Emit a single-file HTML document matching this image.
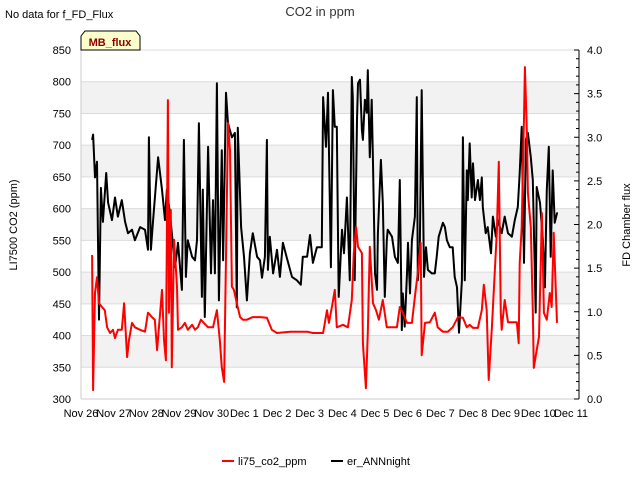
<!DOCTYPE html>
<html><head><meta charset="utf-8"><style>
body{margin:0;background:#fff;}
svg text{font-family:"Liberation Sans","DejaVu Sans",sans-serif;}
</style></head><body>
<svg id="c" width="640" height="480" xmlns="http://www.w3.org/2000/svg">
<text x="5" y="18" font-size="11" fill="#000">No data for f_FD_Flux</text>
<text x="320" y="16" font-size="13" fill="#333" text-anchor="middle">CO2 in ppm</text>
<g id="grid"></g>
<g id="series"></g>
<g id="axes"></g>
<g>
<path d="M81,50 L81,36 L85,31 L136,31 L140,36 L140,50 Z" fill="#ffffcc" stroke="#000" stroke-width="1"/>
<text x="110" y="46" font-size="11" font-weight="bold" fill="#8b0000" text-anchor="middle">MB_flux</text>
</g>
<text transform="translate(17,225) rotate(-90)" font-size="11" text-anchor="middle" fill="#000">LI7500 CO2 (ppm)</text>
<text transform="translate(630,225) rotate(-90)" font-size="11" text-anchor="middle" fill="#000">FD Chamber flux</text>
<g><line x1="222" y1="461" x2="234" y2="461" stroke="#f00" stroke-width="2"/><text x="238" y="465" font-size="11">li75_co2_ppm</text></g>
<g><line x1="331" y1="461" x2="343" y2="461" stroke="#000" stroke-width="2"/><text x="347" y="465" font-size="11">er_ANNnight</text></g>
</svg>
<script>
const xTickLabels=["Nov 26","Nov 27","Nov 28","Nov 29","Nov 30","Dec 1","Dec 2","Dec 3","Dec 4","Dec 5","Dec 6","Dec 7","Dec 8","Dec 9","Dec 10","Dec 11"];
const yTicks=[300,350,400,450,500,550,600,650,700,750,800,850];
const y2Ticks=["0.0","0.5","1.0","1.5","2.0","2.5","3.0","3.5","4.0"];
const erDays=[0.34,0.37,0.43,0.49,0.55,0.61,0.67,0.77,0.83,0.95,1.04,1.13,1.25,1.35,1.44,1.56,1.65,1.81,1.96,2.05,2.08,2.14,2.20,2.36,2.48,2.57,2.63,2.72,2.88,2.97,3.09,3.15,3.21,3.27,3.40,3.49,3.55,3.61,3.70,3.73,3.79,3.89,3.98,4.04,4.10,4.16,4.22,4.31,4.35,4.44,4.50,4.62,4.71,4.77,4.80,4.90,4.99,5.08,5.17,5.26,5.39,5.48,5.54,5.63,5.69,5.72,5.78,5.88,6.00,6.09,6.18,6.30,6.46,6.61,6.73,6.79,6.92,7.01,7.10,7.22,7.37,7.41,7.50,7.56,7.65,7.71,7.77,7.83,7.89,7.99,8.05,8.14,8.23,8.29,8.32,8.38,8.45,8.48,8.54,8.60,8.63,8.69,8.75,8.78,8.84,8.90,8.94,9.00,9.06,9.09,9.18,9.24,9.30,9.36,9.39,9.52,9.61,9.70,9.76,9.82,9.85,9.91,9.98,10.01,10.07,10.13,10.22,10.28,10.31,10.37,10.43,10.50,10.56,10.62,10.74,10.83,10.89,10.95,11.08,11.14,11.20,11.29,11.38,11.44,11.51,11.57,11.66,11.69,11.75,11.81,11.84,11.90,11.96,12.00,12.06,12.15,12.21,12.27,12.30,12.39,12.45,12.55,12.61,12.70,12.76,12.88,12.97,13.07,13.19,13.28,13.37,13.43,13.49,13.56,13.62,13.68,13.77,13.83,13.92,13.95,14.05,14.14,14.20,14.26,14.32,14.38,14.44,14.50,14.57,14.60];
const erValues=[2.97,3.03,2.54,2.72,0.91,2.42,2.03,2.59,2.25,2.05,2.31,2.09,2.28,2.03,1.90,1.94,1.82,1.97,1.94,1.71,3.00,1.71,2.02,2.77,2.40,2.05,2.40,2.13,1.51,1.79,1.25,2.97,1.40,1.82,1.63,1.59,1.82,3.16,1.17,2.40,0.94,2.89,1.44,2.28,1.44,3.62,1.13,2.85,1.59,3.51,3.16,3.00,3.05,1.05,3.11,1.97,1.63,1.13,1.67,1.90,1.63,1.59,1.39,1.63,2.97,1.48,1.86,1.44,1.71,1.40,1.79,1.62,1.40,1.36,1.31,1.63,1.63,1.88,1.56,1.74,1.74,3.46,2.89,3.51,1.51,3.54,3.12,3.12,1.17,1.94,1.67,2.31,1.36,3.69,3.46,1.36,3.20,3.62,3.66,3.08,2.97,3.43,3.28,3.77,2.77,3.43,2.70,1.44,1.25,1.90,2.74,2.25,1.17,1.82,1.94,1.86,1.63,1.56,2.51,0.79,1.21,0.83,1.44,1.79,1.21,1.82,2.09,3.46,1.36,1.74,3.54,1.40,1.74,1.48,1.44,1.44,1.63,1.86,2.02,1.97,1.82,1.74,1.74,1.40,1.28,0.76,1.36,3.00,1.36,2.62,2.28,2.93,2.31,2.70,2.28,2.51,2.28,2.54,2.20,1.90,1.97,1.67,2.09,1.86,2.05,1.90,2.09,1.90,1.86,2.05,2.20,2.59,3.12,1.56,2.97,3.05,2.77,2.51,0.99,2.43,2.25,1.82,1.28,2.40,2.89,1.63,2.62,2.02,2.13,2.13];
const co2Days=[0.34,0.37,0.43,0.49,0.55,0.64,0.73,0.80,0.89,0.98,1.04,1.13,1.25,1.32,1.41,1.47,1.56,1.65,1.81,1.96,2.05,2.17,2.26,2.33,2.48,2.54,2.60,2.66,2.69,2.75,2.78,2.85,2.94,2.97,3.09,3.18,3.27,3.40,3.49,3.58,3.67,3.76,3.89,4.04,4.16,4.25,4.31,4.38,4.44,4.50,4.56,4.62,4.68,4.77,4.87,4.96,5.08,5.26,5.48,5.69,5.84,6.00,6.40,6.92,7.10,7.41,7.53,7.59,7.68,7.77,7.83,8.02,8.17,8.29,8.35,8.42,8.48,8.60,8.63,8.72,8.78,8.84,8.94,9.03,9.12,9.24,9.36,9.52,9.67,9.76,9.85,9.98,10.13,10.22,10.31,10.40,10.43,10.53,10.68,10.83,10.92,11.08,11.23,11.38,11.54,11.69,11.81,11.90,12.00,12.15,12.27,12.33,12.42,12.48,12.58,12.73,12.79,12.85,12.88,12.97,13.07,13.34,13.40,13.43,13.49,13.56,13.59,13.65,13.68,13.77,13.83,13.86,13.95,14.02,14.11,14.17,14.26,14.35,14.41,14.47,14.57];
const co2Values=[527,314,467,492,451,445,440,413,404,409,396,409,409,451,366,393,420,413,409,406,436,429,425,377,472,393,361,771,436,598,350,551,477,409,413,420,409,417,409,413,425,420,413,413,440,393,350,327,524,735,692,477,472,451,429,425,425,429,429,428,409,404,406,406,404,404,440,420,445,472,413,417,413,456,530,571,540,530,388,317,404,540,451,440,425,456,413,413,413,445,436,420,420,461,499,546,369,420,421,436,413,406,406,413,429,428,413,417,412,412,440,480,440,330,413,562,674,436,409,456,421,421,388,514,571,744,823,719,625,571,440,349,377,398,593,436,425,467,445,562,420];

const NS="http://www.w3.org/2000/svg";
const L=81,R=571,T=50,B=399,RA=579;
const xS=d=>L+d*(R-L)/15;
const yS=v=>B-(v-300)*(B-T)/550;
const y2S=v=>B-v*(B-T)/4;
function mk(tag,attrs,parent){const e=document.createElementNS(NS,tag);for(const k in attrs)e.setAttribute(k,attrs[k]);parent.appendChild(e);return e;}
const grid=document.getElementById('grid'),axes=document.getElementById('axes'),series=document.getElementById('series');
for(let i=0;i<yTicks.length-1;i++){
  if(i%2===1){const r=mk('rect',{x:L,y:yS(yTicks[i+1]),width:RA-L,height:yS(yTicks[i])-yS(yTicks[i+1]),fill:'#f2f2f2'},grid);
  
  }
}
yTicks.forEach(v=>{
  const g=mk('line',{x1:L,x2:RA,y1:yS(v),y2:yS(v),stroke:'#dcdcdc','stroke-width':1},grid);
  
  
  const t=mk('text',{x:L-10,y:yS(v)+4,'font-size':11,'text-anchor':'end',fill:'#000'},axes);
  t.textContent=v;
  
  
});
mk('line',{x1:L,x2:L,y1:T,y2:B,stroke:'#ccc'},axes);
mk('line',{x1:L,x2:RA,y1:B,y2:B,stroke:'#ccc'},axes);
mk('line',{x1:RA,x2:RA,y1:T,y2:B,stroke:'#000'},axes);
for(let i=0;i<=40;i++){
  const y=y2S(i/10);
  mk('line',{x1:RA-(i%5===0?5:3),x2:RA,y1:y,y2:y,stroke:'#000'},axes);
}
y2Ticks.forEach(s=>{
  const t=mk('text',{x:RA+8,y:y2S(parseFloat(s))+4,'font-size':11,fill:'#000'},axes);
  t.textContent=s;
  
  
});
xTickLabels.forEach((s,i)=>{
  const t=mk('text',{x:xS(i),y:B+18,'font-size':11,'text-anchor':'middle',fill:'#000'},axes);
  t.textContent=s;
  
  
});
const p1=mk('polyline',{points:erDays.map((d,i)=>xS(d).toFixed(1)+','+y2S(erValues[i]).toFixed(1)).join(' '),fill:'none',stroke:'#000','stroke-width':2,'stroke-linejoin':'round'},series);


const p2=mk('polyline',{points:co2Days.map((d,i)=>xS(d).toFixed(1)+','+yS(co2Values[i]).toFixed(1)).join(' '),fill:'none',stroke:'#f00','stroke-width':2,'stroke-linejoin':'round'},series);


</script>
</body></html>
